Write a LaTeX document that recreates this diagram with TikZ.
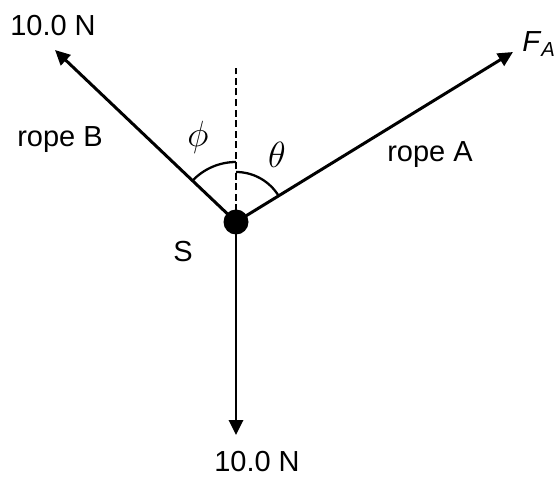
\documentclass[tikz,border=0pt]{standalone}
\usepackage{fontspec}
\setmainfont{Liberation Sans}
\usepackage{tikz}
\usetikzlibrary{arrows.meta}

\begin{document}
\begin{tikzpicture}[x=0.02cm, y=0.02cm,
      force/.style={-{Triangle[length=8.5pt,width=8pt]}, line width=1.7pt},
      lbl/.style={font=\fontsize{16.5}{20}\selectfont, inner sep=0pt},
      ang/.style={font=\fontsize{21}{24}\selectfont, inner sep=0pt},
      angarc/.style={line width=1.3pt}]
    \useasboundingbox (0,0) rectangle (555,477);
    \node[circle, fill=black, minimum size=25*0.02cm, inner sep=0pt] (s) at (236,255) {};
    \coordinate (tipB) at (55,427);
    \coordinate (tipA) at (513,425);
    \coordinate (tipW) at (236,42);
    \coordinate (vert) at (236,409);
    \draw[line width=1.4pt, dash pattern=on 4pt off 2pt] (s.center) -- (vert);
    \draw[force] (s.center) -- (tipB);
    \draw[force] (s.center) -- (tipA);
    \draw[force] (s.center) -- (tipW);
    \draw[angarc] ([shift={(136.5:60)}]s.center) arc (136.5:90:60);
    \draw[angarc] ([shift={(90:50)}]s.center) arc (90:31.3:50);
    \node[lbl] (fb) at (53,451) {10.0 N};
    \node[lbl, anchor=west] (fa) at (522,433) {\textit{F}\textsubscript{\textit{A}}};
    \node[lbl] (rb) at (60,337) {rope B};
    \node[lbl] (ra) at (430,322) {rope A};
    \node[ang] (phi) at (198,340) {$\phi$};
    \node[ang] (th) at (277,322) {$\theta$};
    \node[lbl] (sl) at (183,225) {S};
    \node[lbl] (fw) at (257,15) {10.0 N};
\end{tikzpicture}
\end{document}
